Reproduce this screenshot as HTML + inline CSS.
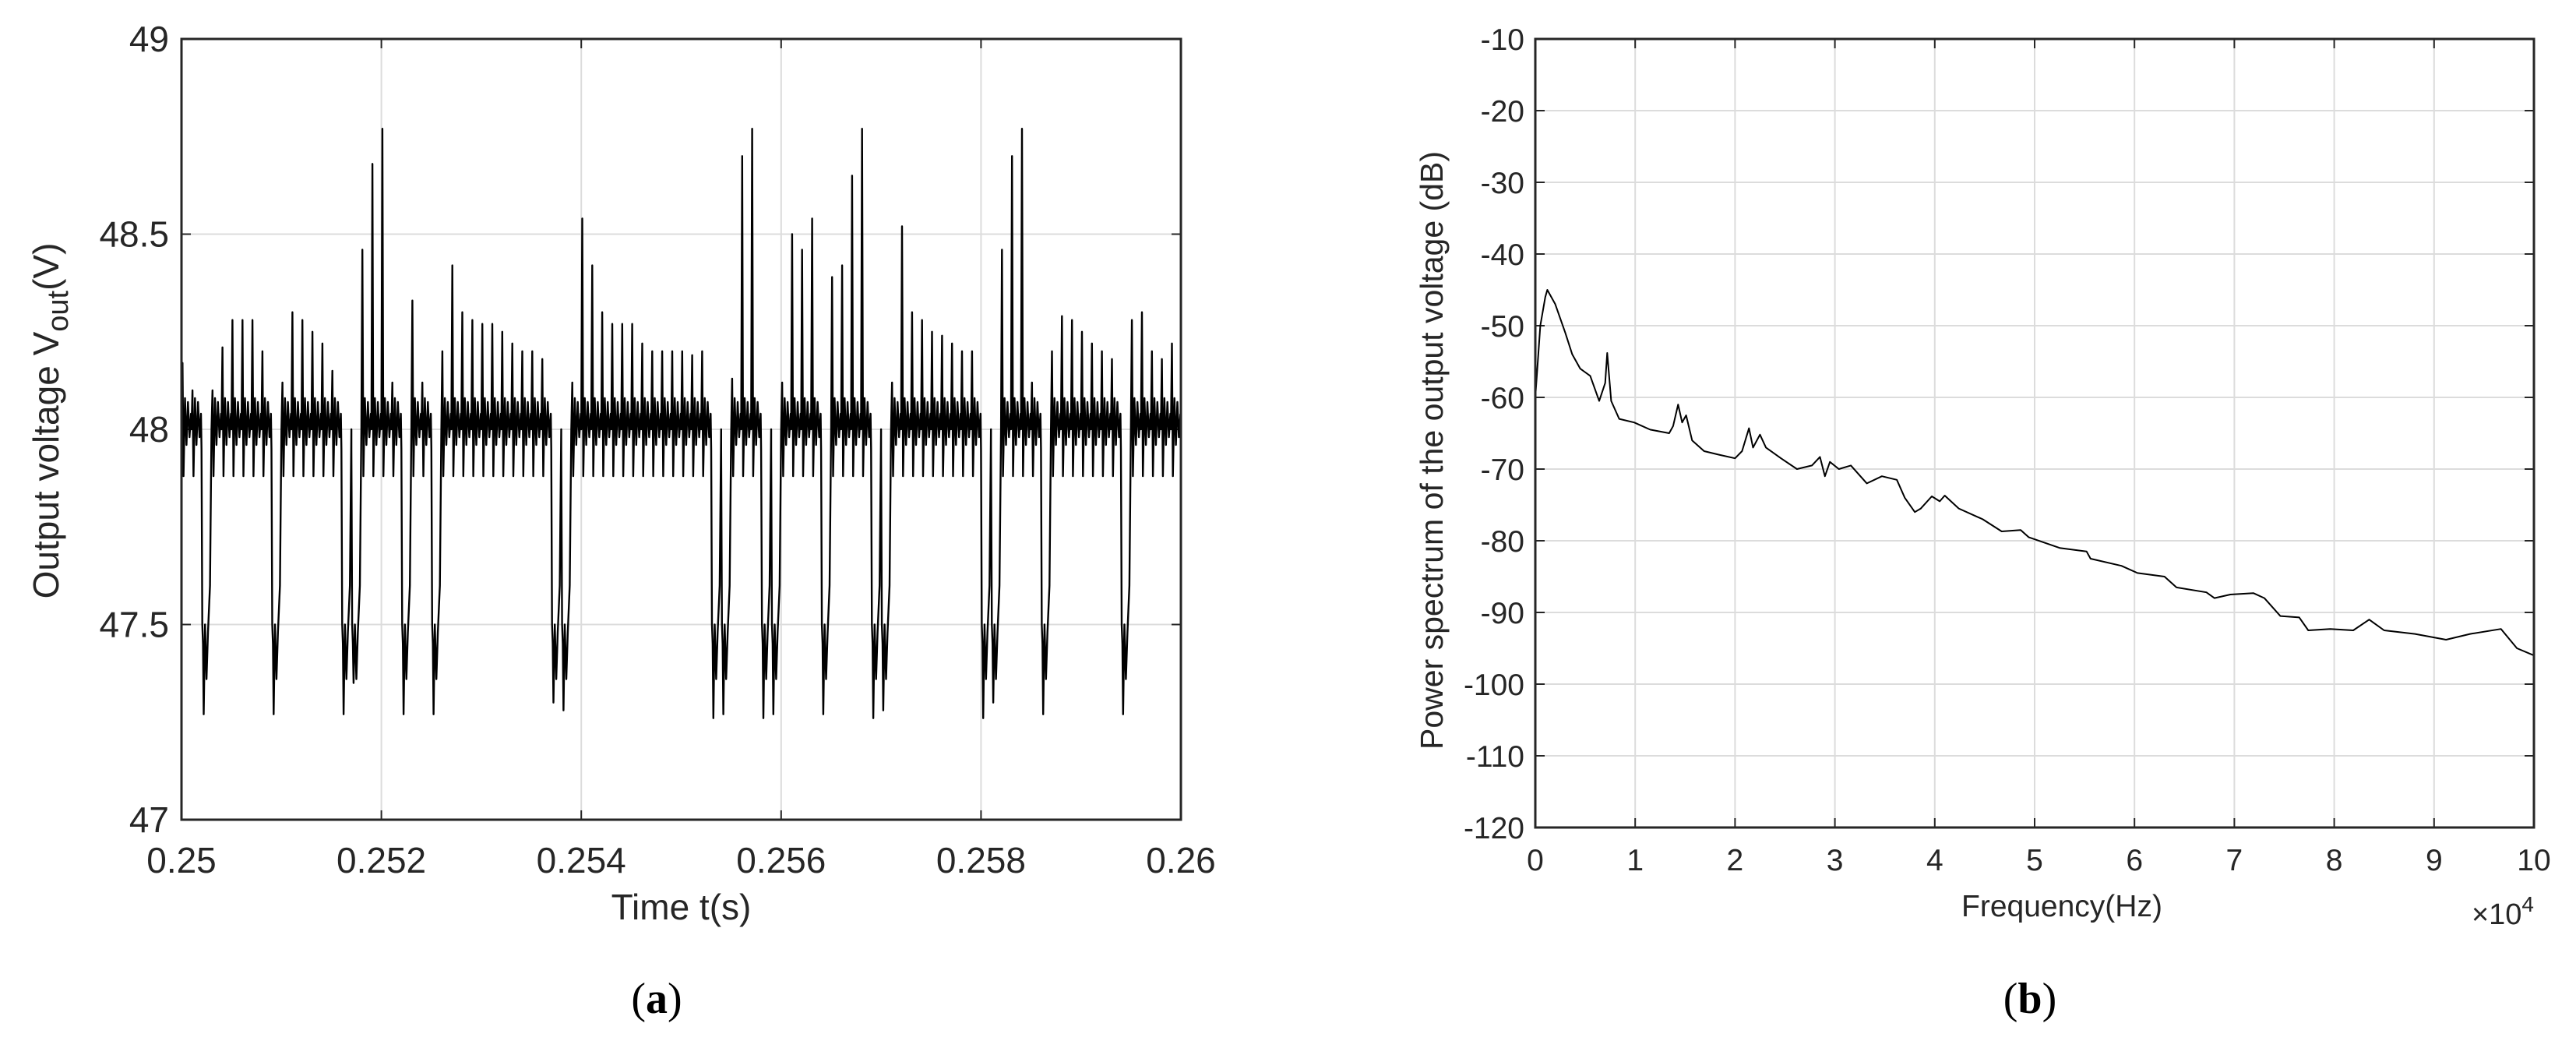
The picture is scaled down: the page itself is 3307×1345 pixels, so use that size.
<!DOCTYPE html>
<html><head><meta charset="utf-8"><style>
html,body{margin:0;padding:0;background:#fff;}
svg{display:block;}
</style></head><body>
<svg id="fig" width="3307" height="1345" viewBox="0 0 3307 1345" xmlns="http://www.w3.org/2000/svg" font-family="Liberation Sans, sans-serif">
<g id="left"></g>
<g id="right"></g>
</svg>
<script>
// ---- Chart (a) data ----
const tStart = 0.25, tEnd = 0.26, cycleDt = 0.0001;
const vTicks = [47, 47.5, 48, 48.5, 49];
const vTickLabels = ["47", "47.5", "48", "48.5", "49"];
const tTicks = [0.25, 0.252, 0.254, 0.256, 0.258, 0.26];
const tTickLabels = ["0.25", "0.252", "0.254", "0.256", "0.258", "0.26"];
// per-cycle extreme value (values below 47.8 are voltage dips)
const cyclePeak = [48.17,48.1,47.27,48.1,48.21,48.28,48.28,48.28,48.2,47.27,
48.12,48.3,48.28,48.25,48.22,48.15,47.27,47.35,48.46,48.68,
48.77,48.12,47.27,48.33,48.12,47.27,48.2,48.42,48.3,48.28,
48.27,48.27,48.25,48.22,48.2,48.2,48.18,47.3,47.28,48.12,
48.54,48.42,48.3,48.27,48.27,48.27,48.22,48.2,48.2,48.2,
48.2,48.19,48.2,47.26,47.27,48.13,48.7,48.77,47.26,47.27,
48.12,48.5,48.46,48.54,47.27,48.39,48.42,48.65,48.77,47.26,
47.28,48.12,48.52,48.3,48.28,48.25,48.24,48.22,48.2,48.2,
47.26,47.3,48.46,48.7,48.77,48.12,47.27,48.2,48.29,48.28,
48.25,48.22,48.2,48.18,47.27,48.28,48.3,48.2,48.18,48.22];
const troughLevel = 47.88;

// ---- Chart (b) data ----
const fTicks = [0,1,2,3,4,5,6,7,8,9,10];
const fTickLabels = ["0","1","2","3","4","5","6","7","8","9","10"];
const dbTicks = [-120,-110,-100,-90,-80,-70,-60,-50,-40,-30,-20,-10];
const dbTickLabels = ["-120","-110","-100","-90","-80","-70","-60","-50","-40","-30","-20","-10"];
const specFreq = [0,0.05,0.1,0.12,0.2,0.3,0.37,0.45,0.55,0.64,0.7,0.72,0.76,0.84,0.99,1.15,1.34,1.38,1.43,1.47,1.51,1.57,1.69,1.84,2.0,2.07,2.14,2.18,2.25,2.31,2.46,2.62,2.77,2.85,2.9,2.95,3.04,3.16,3.32,3.47,3.62,3.7,3.8,3.86,3.97,4.05,4.1,4.24,4.48,4.67,4.86,4.94,5.25,5.52,5.56,5.87,6.03,6.3,6.42,6.72,6.8,6.96,7.19,7.3,7.46,7.65,7.74,7.96,8.19,8.35,8.5,8.81,9.12,9.36,9.67,9.83,10];
const specDb = [-60,-50,-46,-45,-47,-51,-54,-56,-57,-60.5,-58,-53.8,-60.5,-63,-63.5,-64.5,-65,-64,-61,-63.5,-62.5,-66,-67.5,-68,-68.5,-67.5,-64.3,-67,-65.2,-67,-68.5,-70,-69.5,-68.3,-71,-69,-70,-69.5,-72,-71,-71.5,-74,-76,-75.5,-73.8,-74.5,-73.7,-75.5,-77,-78.7,-78.5,-79.5,-81,-81.5,-82.5,-83.5,-84.5,-85,-86.5,-87.2,-88,-87.5,-87.3,-88,-90.5,-90.7,-92.5,-92.3,-92.5,-91,-92.5,-93,-93.8,-93,-92.3,-95,-96];

const NS = "http://www.w3.org/2000/svg";
function mk(parent, tag, attrs, text) {
  const e = document.createElementNS(NS, tag);
  for (const k in attrs) e.setAttribute(k, attrs[k]);
  if (text !== undefined) e.textContent = text;
  parent.appendChild(e);
  return e;
}

// ---------- Chart (a) ----------
(function(){
  const g = document.getElementById('left');
  const L=233, R=1516, T=50, B=1052;
  const x = t => L + (t - tStart) / (tEnd - tStart) * (R - L);
  const y = v => B - (v - 47) / (49 - 47) * (B - T);
  tTicks.forEach((t,i) => {
    const gl = mk(g,'line',{x1:x(t),x2:x(t),y1:T,y2:B,stroke:'#dcdcdc','stroke-width':2});
    
    
    const lb = mk(g,'text',{x:x(t),y:1120,'font-size':46,'text-anchor':'middle',fill:'#262626'},tTickLabels[i]);
    
    
  });
  vTicks.forEach((v,i) => {
    const gl = mk(g,'line',{x1:L,x2:R,y1:y(v),y2:y(v),stroke:'#dcdcdc','stroke-width':2});
    
    
    mk(g,'line',{x1:L,x2:L+12,y1:y(v),y2:y(v),stroke:'#262626','stroke-width':2});
    mk(g,'line',{x1:R-12,x2:R,y1:y(v),y2:y(v),stroke:'#262626','stroke-width':2});
    const lb = mk(g,'text',{x:L-16,y:y(v)+16,'font-size':46,'text-anchor':'end',fill:'#262626'},vTickLabels[i]);
    
    
  });
  const pts = [];
  cyclePeak.forEach((p,i) => {
    const t0 = tStart + i*cycleDt;
    if (p < 47.8) {
      pts.push([t0,47.95],[t0+0.08*cycleDt,47.5],[t0+0.15*cycleDt,47.45],[t0+0.22*cycleDt,p],
               [t0+0.35*cycleDt,47.5],[t0+0.5*cycleDt,47.36],[t0+0.65*cycleDt,47.48],[t0+0.85*cycleDt,47.6],[t0+cycleDt,48.0]);
    } else {
      pts.push([t0,48.0],[t0+0.1*cycleDt,p],[t0+0.2*cycleDt,troughLevel],[t0+0.35*cycleDt,48.08],
               [t0+0.5*cycleDt,47.96],[t0+0.65*cycleDt,48.07],[t0+0.8*cycleDt,47.98],[t0+0.95*cycleDt,48.04]);
    }
  });
  const d = pts.map((q,i)=>(i?'L':'M')+x(q[0]).toFixed(1)+' '+y(q[1]).toFixed(1)).join('');
  const line = mk(g,'path',{d:d,fill:'none',stroke:'#000','stroke-width':2.4,'stroke-linejoin':'round'});
  
  
  tTicks.forEach(t => {
    mk(g,'line',{x1:x(t),x2:x(t),y1:B,y2:B-12,stroke:'#262626','stroke-width':2});
    mk(g,'line',{x1:x(t),x2:x(t),y1:T,y2:T+12,stroke:'#262626','stroke-width':2});
  });
  const box = mk(g,'rect',{x:L,y:T,width:R-L,height:B-T,fill:'none',stroke:'#262626','stroke-width':3});
  
  
  const xt = mk(g,'text',{x:(L+R)/2,y:1180,'font-size':46,'text-anchor':'middle',fill:'#262626'},'Time t(s)');
  
  
  const yt = mk(g,'text',{x:0,y:0,'font-size':46,'text-anchor':'middle',fill:'#262626',transform:'translate(75,540) rotate(-90)'});
  
  
  mk(yt,'tspan',{},'Output voltage V');
  mk(yt,'tspan',{dy:12,'font-size':38},'out');
  mk(yt,'tspan',{dy:-12},'(V)');
  const cap = mk(g,'text',{x:843,y:1300,'font-size':56,'text-anchor':'middle','font-family':'Liberation Serif, serif',fill:'#000'});
  
  
  mk(cap,'tspan',{},'(');
  mk(cap,'tspan',{'font-weight':'bold'},'a');
  mk(cap,'tspan',{},')');
})();

// ---------- Chart (b) ----------
(function(){
  const g = document.getElementById('right');
  const L=1971, R=3253, T=50, B=1062;
  const x = f => L + (f - 0) / (10 - 0) * (R - L);
  const y = v => B - (v + 120) / 110 * (B - T);
  fTicks.forEach((f,i) => {
    const gl = mk(g,'line',{x1:x(f),x2:x(f),y1:T,y2:B,stroke:'#dcdcdc','stroke-width':2});
    
    
    const lb = mk(g,'text',{x:x(f),y:1117,'font-size':39,'text-anchor':'middle',fill:'#262626'},fTickLabels[i]);
    
    
  });
  dbTicks.forEach((v,i) => {
    const gl = mk(g,'line',{x1:L,x2:R,y1:y(v),y2:y(v),stroke:'#dcdcdc','stroke-width':2});
    
    
    mk(g,'line',{x1:L,x2:L+12,y1:y(v),y2:y(v),stroke:'#262626','stroke-width':2});
    mk(g,'line',{x1:R-12,x2:R,y1:y(v),y2:y(v),stroke:'#262626','stroke-width':2});
    const lb = mk(g,'text',{x:L-14,y:y(v)+14,'font-size':39,'text-anchor':'end',fill:'#262626'},dbTickLabels[i]);
    
    
  });
  const d = specFreq.map((f,i)=>(i?'L':'M')+x(f).toFixed(1)+' '+y(specDb[i]).toFixed(1)).join('');
  const line = mk(g,'path',{d:d,fill:'none',stroke:'#000','stroke-width':2,'stroke-linejoin':'round'});
  
  
  fTicks.forEach(f => {
    mk(g,'line',{x1:x(f),x2:x(f),y1:B,y2:B-12,stroke:'#262626','stroke-width':2});
    mk(g,'line',{x1:x(f),x2:x(f),y1:T,y2:T+12,stroke:'#262626','stroke-width':2});
  });
  const box = mk(g,'rect',{x:L,y:T,width:R-L,height:B-T,fill:'none',stroke:'#262626','stroke-width':3});
  
  
  const xt = mk(g,'text',{x:2647,y:1176,'font-size':39,'text-anchor':'middle',fill:'#262626'},'Frequency(Hz)');
  
  
  const ex = mk(g,'text',{x:3253,y:1186,'font-size':38,'text-anchor':'end',fill:'#262626'});
  
  
  mk(ex,'tspan',{},'×10');
  mk(ex,'tspan',{dy:-16,'font-size':28},'4');
  const yt = mk(g,'text',{x:0,y:0,'font-size':41,'text-anchor':'middle',fill:'#262626',transform:'translate(1852,578) rotate(-90)'},'Power spectrum of the output voltage (dB)');
  
  
  const cap = mk(g,'text',{x:2606,y:1300,'font-size':56,'text-anchor':'middle','font-family':'Liberation Serif, serif',fill:'#000'});
  
  
  mk(cap,'tspan',{},'(');
  mk(cap,'tspan',{'font-weight':'bold'},'b');
  mk(cap,'tspan',{},')');
})();
</script>
</body></html>
